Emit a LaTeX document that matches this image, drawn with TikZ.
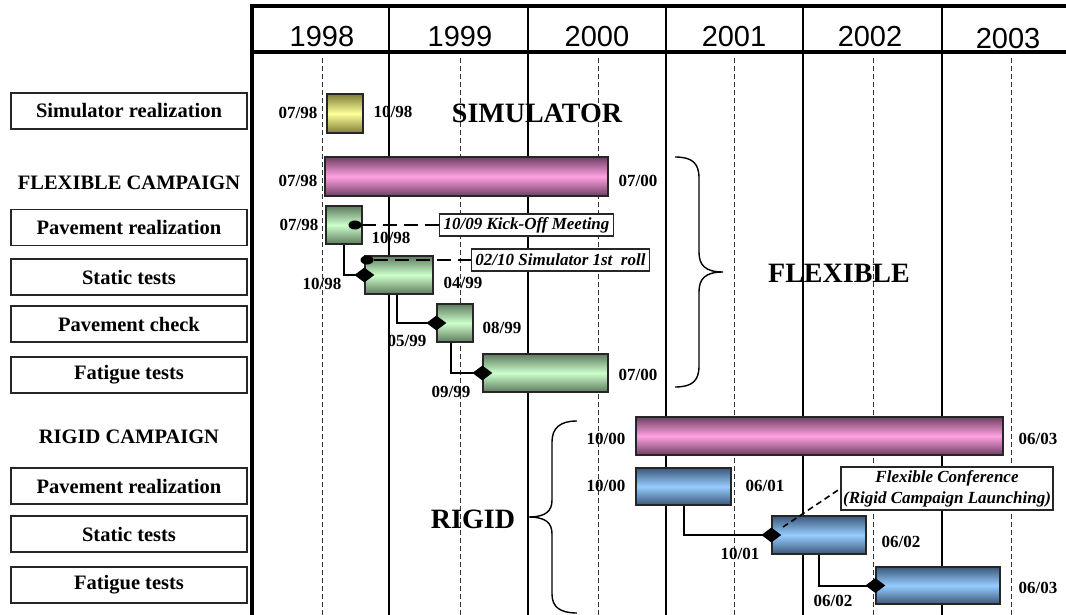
\documentclass[tikz,border=0pt]{standalone}
\usepackage{fontspec}
\setmainfont{Liberation Serif}
\newfontfamily\yearfont{Liberation Sans}
\usepackage{tikz}
\usetikzlibrary{shapes.geometric,positioning}
\usepackage{xcolor}
\definecolor{pinkdark}{HTML}{6E3E62}
\definecolor{pinklight}{HTML}{FFA2E2}
\definecolor{greendark}{HTML}{5E7A5E}
\definecolor{greenlight}{HTML}{CCFFCC}
\definecolor{yeldark}{HTML}{7E7E34}
\definecolor{yellight}{HTML}{FFFF9C}
\definecolor{bluedark}{HTML}{3A5878}
\definecolor{bluelight}{HTML}{98CCFF}

\begin{document}
\begin{tikzpicture}[x=1pt, y=-1pt,
  every node/.style={inner sep=0pt},
  task/.style={draw=black!85, line width=1.2pt, minimum width=236pt, minimum height=36pt,
    font=\fontsize{20.5}{24}\selectfont\bfseries},
  grp/.style={font=\fontsize{20.5}{24}\selectfont\bfseries},
  yr/.style={font=\yearfont\fontsize{29}{34}\selectfont},
  dte/.style={font=\fontsize{17}{20}\selectfont\bfseries},
  big/.style={font=\fontsize{28}{32}\selectfont\bfseries},
  note/.style={draw=black!85, fill=white, line width=1.2pt, inner xsep=4pt, minimum height=22pt,
    font=\fontsize{17}{21}\selectfont\bfseries\itshape},
  bar/.style={draw=black!85, line width=1.3pt},
  simbar/.style={bar, top color=yeldark, bottom color=yeldark, middle color=yellight},
  campbar/.style={bar, top color=pinkdark, bottom color=pinkdark, middle color=pinklight},
  flexbar/.style={bar, top color=greendark, bottom color=greendark, middle color=greenlight},
  rigbar/.style={bar, top color=bluedark, bottom color=bluedark, middle color=bluelight},
  link/.style={line width=2pt},
  ms/.style={diamond, fill=black, minimum width=20pt, minimum height=15pt},
  dot/.style={ellipse, fill=black, minimum width=13pt, minimum height=9pt},
  mline/.style={line width=2.5pt, dash pattern=on 14pt off 7pt},
  brace/.style={line width=1.4pt}]
\useasboundingbox (0,0) rectangle (1066,615);

% --- griglia degli anni ---
\foreach \xx in {322,460,598,734,873,1011}
  \draw[black!80, line width=1pt, dash pattern=on 5pt off 3pt] (\xx,58) -- (\xx,615);
\foreach \xx in {389,528,666,803,942}
  \draw[line width=2.2pt] (\xx,6) -- (\xx,615);
\draw[line width=4pt] (250,6) -- (1066,6);
\draw[line width=3.5pt] (250,52) -- (1066,52);
\draw[line width=3.5pt] (252,4) -- (252,615);
\foreach \yy/\xx/\ty in {1998/322/37,1999/460/37,2000/597/37,2001/734/37,2002/870/37,2003/1008/39}
  \node[yr] (y\yy) at (\xx,\ty) {\yy};

% --- attivita' ---
\node[task] (tsim) at (129,111) {Simulator realization};
\node[grp] (gflex) at (129,183) {FLEXIBLE CAMPAIGN};
\node[task] (tfpav) at (129,227.5) {Pavement realization};
\node[task] (tfstat) at (129,277) {Static tests};
\node[task] (tfchk) at (129,324) {Pavement check};
\node[task] (tffat) at (129,375) {Fatigue tests};
\node[grp] (grig) at (129,437) {RIGID CAMPAIGN};
\node[task] (trpav) at (129,486) {Pavement realization};
\node[task] (trstat) at (129,534) {Static tests};
\node[task] (trfat) at (129,585) {Fatigue tests};

% --- barre ---
\node[simbar, minimum width=36pt, minimum height=39pt] (sim) at (345,113.5) {};
\node[campbar, minimum width=283pt, minimum height=39pt] (fcamp) at (466.5,176.5) {};
\node[flexbar, minimum width=36pt, minimum height=38pt] (fpav) at (344,225) {};
\node[flexbar, minimum width=68pt, minimum height=38pt] (fstat) at (399,275) {};
\node[flexbar, minimum width=36pt, minimum height=38pt] (fchk) at (455,323) {};
\node[flexbar, minimum width=125pt, minimum height=38pt] (ffat) at (545.5,373) {};
\node[campbar, minimum width=367pt, minimum height=38pt] (rcamp) at (819.5,436) {};
\node[rigbar, minimum width=95pt, minimum height=37pt] (rpav) at (683.5,486.5) {};
\node[rigbar, minimum width=94pt, minimum height=38pt] (rstat) at (819,535) {};
\node[rigbar, minimum width=124pt, minimum height=37pt] (rfat) at (938,585.5) {};

% --- date ---
\node[dte] (d1) at (298,113) {07/98};
\node[dte] (d2) at (393,112) {10/98};
\node[dte] (d3) at (298,181) {07/98};
\node[dte] (d4) at (638,181) {07/00};
\node[dte] (d5) at (299,225) {07/98};
\node[dte] (d6) at (391,238) {10/98};
\node[dte] (d7) at (322,284) {10/98};
\node[dte] (d8) at (463,283) {04/99};
\node[dte] (d9) at (407,341) {05/99};
\node[dte] (d10) at (502,328) {08/99};
\node[dte] (d11) at (451,392) {09/99};
\node[dte] (d12) at (638,375) {07/00};
\node[dte] (d13) at (606,439) {10/00};
\node[dte] (d14) at (1038,439) {06/03};
\node[dte] (d15) at (606,486) {10/00};
\node[dte] (d16) at (765,486) {06/01};
\node[dte] (d17) at (740,554) {10/01};
\node[dte] (d18) at (901,542) {06/02};
\node[dte] (d19) at (833,601) {06/02};
\node[dte] (d20) at (1038,588) {06/03};

% --- dipendenze ---
\draw[link] (fpav.south) |- (fstat.west);
\draw[link] (fstat.south -| 397,0) |- (fchk.west);
\draw[link] (fchk.south -| 451,0) |- (ffat.west);
\draw[link] (rpav.south) |- (rstat.west);
\draw[link] (rstat.south) |- (rfat.west);
\node[ms] (m1) at (fstat.west) {};
\node[ms] (m2) at (fchk.west) {};
\node[ms] (m3) at (ffat.west) {};
\node[ms] (m4) at (rstat.west) {};
\node[ms] (m5) at (rfat.west) {};

% --- eventi ---
\node[dot] (kdot) at (355,225) {};
\node[note] (kick) at (526.5,225) {10/09 Kick-Off Meeting};
\draw[mline] (kdot.east) -- (kick.west);
\node[dot] (rdot) at (367,260) {};
\node[note] (roll) at (560.5,260) {02/10 Simulator 1st\ \ roll};
\draw[mline] (rdot.east) -- (roll.west);
\coordinate (cfl) at (783,527);
\node[note, align=center, inner xsep=2pt, minimum height=43pt] (conf) at (947,488.5)
  {Flexible Conference\\(Rigid Campaign Launching)};
\draw[line width=1.6pt, dash pattern=on 6pt off 4pt] (cfl) -- (conf.west);

% --- graffe e titoli ---
\draw[brace] (675,157) .. controls (692,157) and (699,163) .. (699,178) -- (699,252)
  .. controls (699,265) and (705,272) .. (723,272)
  .. controls (705,272) and (699,279) .. (699,292) -- (699,366)
  .. controls (699,381) and (692,387) .. (675,387);
\draw[brace] (577,421) .. controls (560,421) and (552,428) .. (552,442) -- (552,500)
  .. controls (552,511) and (546,517) .. (528,517)
  .. controls (546,517) and (552,523) .. (552,534) -- (552,594)
  .. controls (552,607) and (560,613) .. (577,613);
\node[big] (tsimu) at (537,113) {SIMULATOR};
\node[big] (tflex) at (839,273) {FLEXIBLE};
\node[big] (trig) at (473,519) {RIGID};
\end{tikzpicture}
\end{document}
